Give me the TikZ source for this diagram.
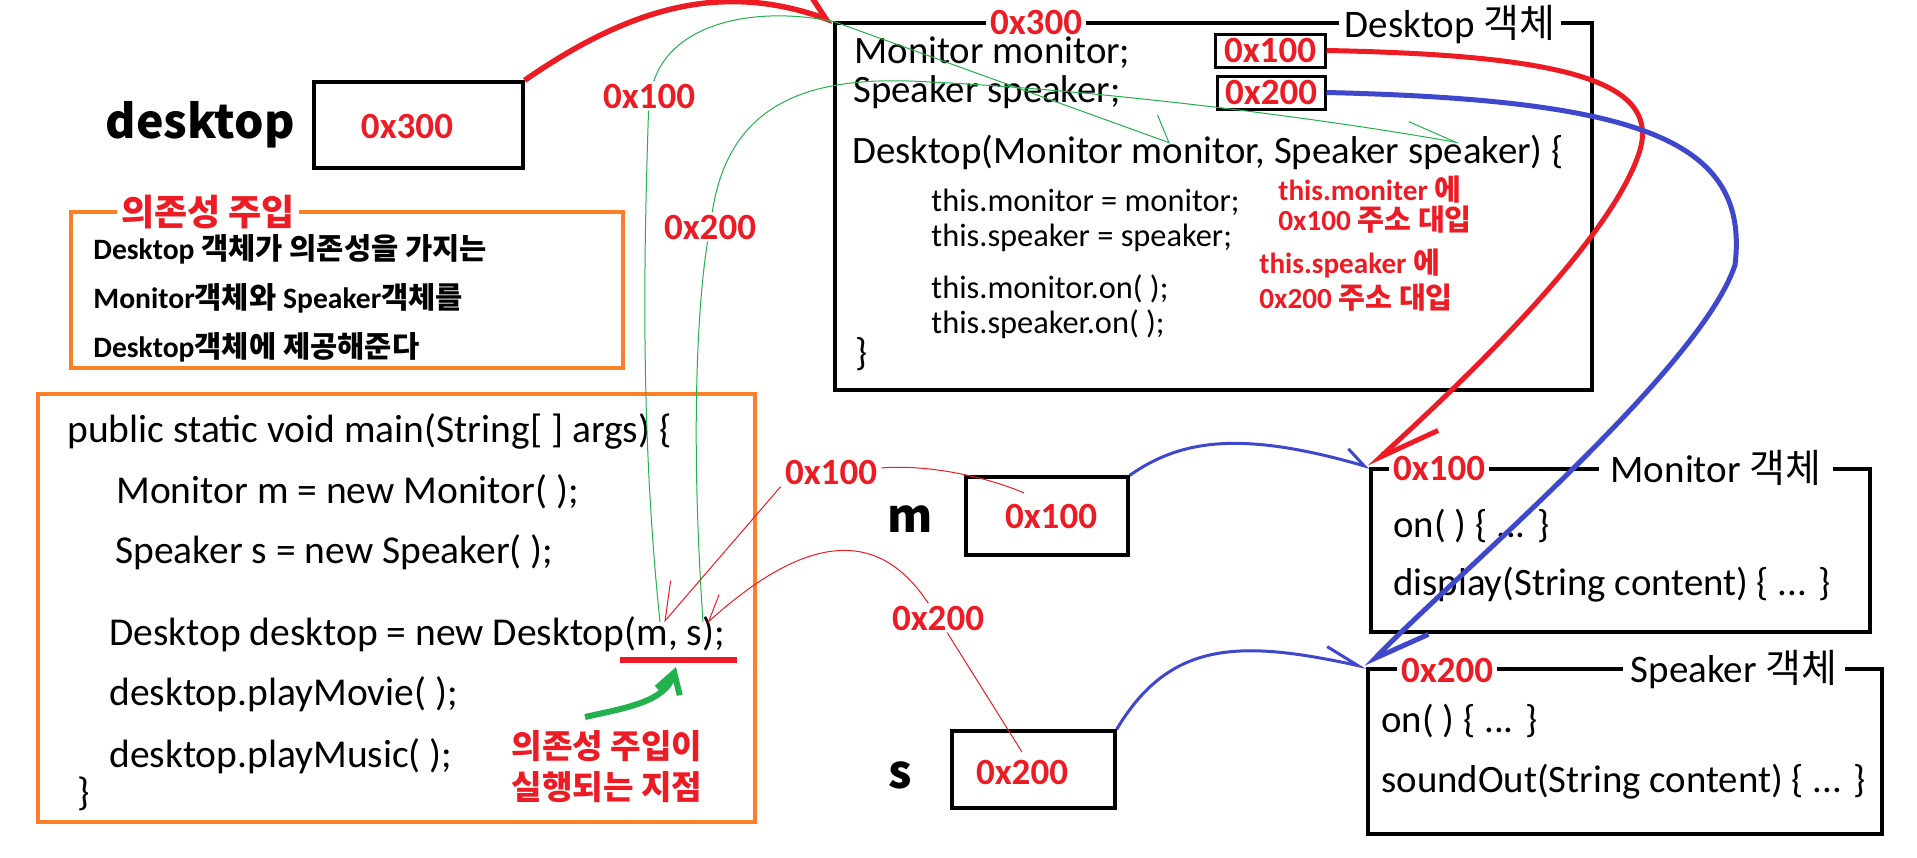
\documentclass[tikz,border=0pt]{standalone}
\usepackage{fontspec}
\setmainfont{Carlito}
\newfontfamily\krfont{Noto Sans CJK KR}
\newcommand{\kr}[1]{{\krfont #1}}
\usetikzlibrary{arrows.meta}
\definecolor{pRed}{RGB}{237,28,36}
\definecolor{pBlue}{RGB}{63,72,204}
\definecolor{pGreen}{RGB}{34,177,76}
\definecolor{pOrange}{RGB}{255,127,39}
\begin{document}
\begin{tikzpicture}[x=0.5pt,y=-0.5pt,
  sTxt/.style={inner sep=0pt, anchor=base west},
  sCode/.style={sTxt, font=\fontsize{19.75pt}{23pt}\selectfont},
  sDcode/.style={sTxt, font=\fontsize{19.4pt}{23pt}\selectfont},
  sSmall/.style={sTxt, font=\fontsize{16.2pt}{19pt}\selectfont},
  sNote/.style={sTxt, text=pRed, font=\bfseries\fontsize{14.6pt}{17pt}\selectfont},
  sDi/.style={sTxt, font=\bfseries\fontsize{14.8pt}{17pt}\selectfont},
  sHex/.style={inner sep=0pt, text=pRed, font=\bfseries\fontsize{18.5pt}{20pt}\selectfont},
  sVarName/.style={inner sep=0pt, font=\krfont\bfseries\fontsize{23pt}{26pt}\selectfont},
  sHead/.style={fill=white, inner xsep=3pt, inner ysep=0pt, font=\fontsize{19.5pt}{23pt}\selectfont},
  sOnLine/.style={sHex, fill=white, inner xsep=2pt, inner ysep=1pt},
  sBox/.style={draw=black, line width=1.6pt, inner sep=0pt},
  sOBox/.style={draw=pOrange, line width=1.6pt, inner sep=0pt},
  sThinG/.style={pGreen, line width=0.5pt},
  sThinR/.style={pRed, line width=0.5pt},
]
\useasboundingbox[fill=white] (0,0) rectangle (1917,857);

% ---------- variable boxes ----------
\node[sVarName, font=\krfont\bfseries\fontsize{23.2pt}{26pt}\selectfont] (deskLbl) at (200,125) {desktop};
\node[sBox, minimum width=104.5pt, minimum height=43pt] (deskBox) at (418.5,125) {};
\node[sHex] (v300) at (407,126) {0x300};

\node[sVarName] (mLbl) at (910,519) {m};
\node[sBox, minimum width=81pt, minimum height=39pt] (mVar) at (1047,516) {};
\node[sHex] (v100) at (1051,516) {0x100};

\node[sVarName] (sLbl) at (900,775) {s};
\node[sBox, minimum width=81.5pt, minimum height=38.5pt] (sVar) at (1033.5,769.5) {};
\node[sHex] (v200) at (1022,772) {0x200};

% ---------- Desktop object ----------
\node[sBox, minimum width=378.5pt, minimum height=183.5pt] (dObj) at (1213.5,206.5) {};
\node[sOnLine] (d300) at (1036,22) {0x300};
\node[sHead] (dTitle) at (1450,25) {Desktop \kr{객체}};
\node[sDcode] (dl1) at (854,63) {Monitor monitor;};
\node[sDcode] (dl2) at (853,102) {Speaker speaker;};
\node[sBox, sHex, line width=1.5pt, minimum width=55pt, minimum height=16.5pt] (dM100) at (1270,50.5) {0x100};
\node[sBox, sHex, line width=1.5pt, minimum width=54pt, minimum height=16.5pt] (dS200) at (1271,92.5) {0x200};
\node[sDcode] (dl3) at (852,163) {Desktop(Monitor monitor, Speaker speaker) \{};
\node[sSmall] (dl4) at (931,211) {this.monitor = monitor;};
\node[sSmall] (dl5) at (931,246) {this.speaker = speaker;};
\node[sSmall] (dl6) at (931,298) {this.monitor.on( );};
\node[sSmall] (dl7) at (931,333) {this.speaker.on( );};
\node[sDcode] (dl8) at (855,365) {\}};
\node[sNote] (n1) at (1278,200) {this.moniter \kr{에}};
\node[sNote] (n2) at (1278,230) {0x100 \kr{주소 대입}};
\node[sNote] (n3) at (1259,273) {this.speaker \kr{에}};
\node[sNote] (n4) at (1259,308) {0x200 \kr{주소 대입}};

% ---------- dependency injection note ----------
\node[sOBox, minimum width=276pt, minimum height=78pt] (diBox) at (347,290) {};
\node[fill=white, inner xsep=2pt, inner ysep=0pt, text=pRed, font=\krfont\bfseries\fontsize{18pt}{20pt}\selectfont] (diTitle) at (208,212) {의존성 주입};
\node[sDi] (di1) at (93,259) {Desktop \kr{객체가 의존성을 가지는}};
\node[sDi] (di2) at (93,308) {Monitor\kr{객체와} Speaker\kr{객체를}};
\node[sDi] (di3) at (93,357) {Desktop\kr{객체에 제공해준다}};

% ---------- main ----------
\node[sOBox, minimum width=358.5pt, minimum height=214pt] (mainBox) at (396.5,608) {};
\node[sCode] (c1) at (67,442) {public static void main(String[ ] args) \{};
\node[sCode] (c2) at (116,503) {Monitor m = new Monitor( );};
\node[sCode] (c3) at (115,563) {Speaker s = new Speaker( );};
\node[sCode] (c4) at (109,645) {Desktop desktop = new Desktop(m, s);};
\node[sCode] (c5) at (109,705) {desktop.playMovie( );};
\node[sCode] (c6) at (109,767) {desktop.playMusic( );};
\node[sCode] (c7) at (77,805) {\}};
\node[align=center, inner sep=0pt, text=pRed, font=\krfont\bfseries\fontsize{16.6pt}{20.5pt}\selectfont] (diPoint) at (607,767) {의존성 주입이\\실행되는 지점};

% ---------- Monitor / Speaker objects ----------
\node[sBox, minimum width=249.5pt, minimum height=81.5pt] (mObj) at (1620.5,550.5) {};
\node[sOnLine] (mo100) at (1439,468) {0x100};
\node[sHead, inner xsep=6pt] (moTitle) at (1716,468) {Monitor \kr{객체}};
\node[sDcode] (mo1) at (1393,537) {on( ) \{ ... \}};
\node[sDcode] (mo2) at (1393,595) {display(String content) \{ ... \}};

\node[sBox, minimum width=257pt, minimum height=82.5pt] (sObj) at (1625,751.5) {};
\node[sOnLine] (so200) at (1447,670) {0x200};
\node[sHead, inner xsep=4pt] (soTitle) at (1734,670) {Speaker \kr{객체}};
\node[sDcode] (so1) at (1381,732) {on( ) \{ ... \}};
\node[sDcode] (so2) at (1381,792) {soundOut(String content) \{ ... \}};

% ---------- labels on the thin lines ----------
\node[sOnLine] (g100) at (649,96) {0x100};
\node[sOnLine] (g200) at (710,227) {0x200};
\node[sOnLine] (r100) at (831,472) {0x100};
\node[sOnLine] (r200) at (938,618) {0x200};

% ---------- coordinates ----------
\coordinate (mTipG) at (660,622);
\coordinate (sTipG) at (703,622);
\coordinate (mTipR) at (664,622);
\coordinate (sTipR) at (707,623);
\coordinate (pMon) at (1170,143);
\coordinate (pSpk) at (1460,143);
\coordinate (r100s) at (1024,493);
\coordinate (r200s) at (1022,752);
\coordinate (u1) at (620,660);
\coordinate (u2) at (737,660);
\coordinate (gS) at (585,717);
\coordinate (uTip) at (676,667);

% ---------- connectors ----------
\draw[pRed, line width=2.75pt, -{Straight Barb[left,length=15pt,width=23pt]}]
  (deskBox.north east) .. controls (640,0) and (730,-15) .. (dObj.north west);

\draw[sThinG] (mTipG) .. controls (640,430) and (644,250) .. (g100);
\draw[sThinG, -{Straight Barb[left,length=10pt,width=22pt]}]
  (g100) .. controls (672,25) and (750,5) .. (dObj.north west) -- (pMon);

\draw[sThinG] (sTipG) .. controls (690,430) and (698,300) .. (g200);
\draw[sThinG, -{Straight Barb[left,length=25pt,width=12pt]}]
  (g200) .. controls (730,95) and (820,75) .. (930,82) .. controls (1100,90) and (1320,118) .. (pSpk);

\draw[sThinR] (r100s) .. controls (990,478) and (930,464) .. (r100);
\draw[sThinR, -{Straight Barb[right,length=17pt,width=22pt]}] (r100.south west) -- (mTipR);

\draw[sThinR] (r200s) -- (r200);
\draw[sThinR, -{Straight Barb[right,length=13pt,width=13pt]}]
  (r200) .. controls (880,530) and (810,530) .. (sTipR);

\draw[pBlue, line width=1.5pt, -{Straight Barb[left,length=10pt,width=12pt]}]
  (mVar.north east) .. controls (1180,440) and (1240,430) .. (mObj.north west);
\draw[pBlue, line width=1.5pt, -{Straight Barb[left,length=17pt,width=12pt]}]
  (sVar.north east) .. controls (1170,640) and (1240,640) .. (sObj.north west);

\draw[pRed, line width=2.5pt, -{Straight Barb[left,length=30pt,width=20pt]}]
  (dM100.east) .. controls (1560,55) and (1660,80) .. (1640,150)
  .. controls (1610,250) and (1420,420) .. (mObj.north west);

\draw[pBlue, line width=2.5pt, -{Straight Barb[left,length=27pt,width=22pt]}]
  (dS200.east) .. controls (1640,100) and (1750,140) .. (1735,265)
  .. controls (1700,370) and (1450,580) .. (sObj.north west);

\draw[pRed, line width=3pt] (u1) -- (u2);
\draw[pGreen, line width=3pt, -{Straight Barb[length=10pt,width=12pt]}]
  (gS) .. controls (625,708) and (665,702) .. (uTip);
\end{tikzpicture}
\end{document}
